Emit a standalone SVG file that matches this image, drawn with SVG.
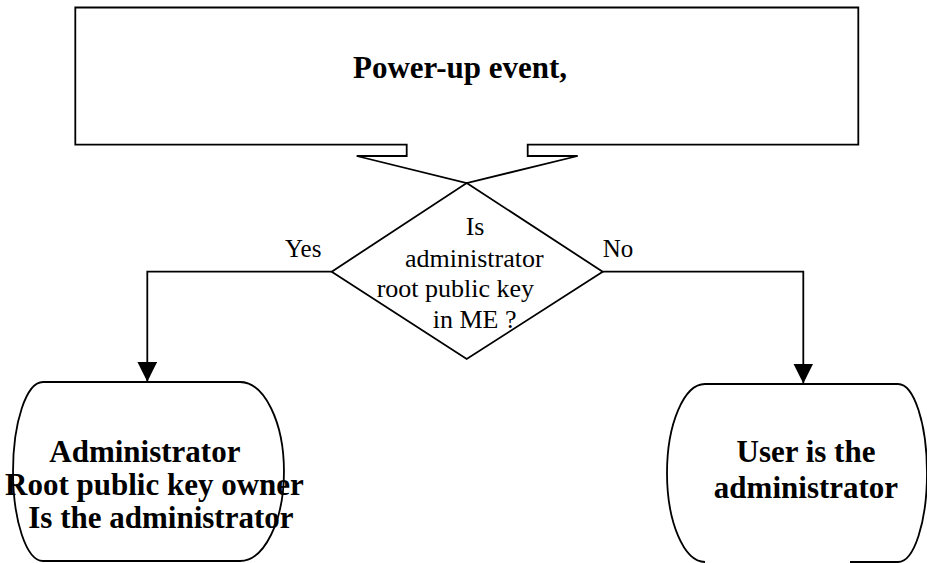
<svg xmlns="http://www.w3.org/2000/svg" width="927" height="563" viewBox="0 0 927 563">
<style>
.shape{fill:#fff;stroke:#000;stroke-width:1.8;stroke-linejoin:miter}
.line{fill:none;stroke:#000;stroke-width:1.8}
.bold{font-family:"Liberation Serif","Times New Roman",serif;font-weight:bold;font-size:31px;fill:#000}
.reg{font-family:"Liberation Serif","Times New Roman",serif;font-size:26px;fill:#000}
.lbl{font-family:"Liberation Serif","Times New Roman",serif;font-size:25px;fill:#000}
</style>
<defs>
<marker id="arrow" viewBox="0 0 20 20" refX="20" refY="10" markerWidth="20" markerHeight="20" markerUnits="userSpaceOnUse" orient="auto">
<path d="M0,0 L20,10 L0,20 Z" fill="#000"/>
</marker>
</defs>
<rect width="927" height="563" fill="#fff"/>
<g id="connectors">
<polyline class="line" points="331.7,271.7 147.3,271.7 147.3,381.7" marker-end="url(#arrow)"/>
<polyline class="line" points="602.7,271.7 803.3,271.7 803.3,383.5" marker-end="url(#arrow)"/>
<text class="lbl" x="285" y="257">Yes</text>
<text class="lbl" x="602.7" y="257.3">No</text>
</g>
<g id="power-up">
<path class="shape" d="M75.3,7.5 L858.3,7.5 L858.3,144.7 L527.7,144.7 L527.7,156 L577.7,156 L466.7,183 L356.7,156 L406.7,156 L406.7,144.7 L75.3,144.7 Z"/>
<text class="bold" x="353" y="78">Power-up event,</text>
</g>
<g id="decision">
<path class="shape" d="M466.7,183 L602.7,271.7 L466.7,359 L331.7,271.7 Z"/>
<text class="reg" x="465.7" y="235">Is</text>
<text class="reg" x="405" y="266.7">administrator</text>
<text class="reg" x="376.7" y="296.7">root public key</text>
<text class="reg" x="432.7" y="328">in ME ?</text>
</g>
<g id="admin-owner">
<path class="shape" d="M43,382 L240,382 A44,89.5 0 0 1 240,561 L43,561 A30,89.5 0 0 1 43,382 Z"/>
<text class="bold" x="49.3" y="461.7">Administrator</text>
<text class="bold" x="5" y="495">Root public key owner</text>
<text class="bold" x="28.3" y="528">Is the administrator</text>
</g>
<g id="user-admin">
<path class="shape" d="M850,562 L898,562 A29,89 0 0 0 898,384 L705,384 A38,89 0 0 0 705,562"/>
<text class="bold" x="806" y="461.7" text-anchor="middle">User is the</text>
<text class="bold" x="806" y="498.3" text-anchor="middle">administrator</text>
</g>
</svg>
